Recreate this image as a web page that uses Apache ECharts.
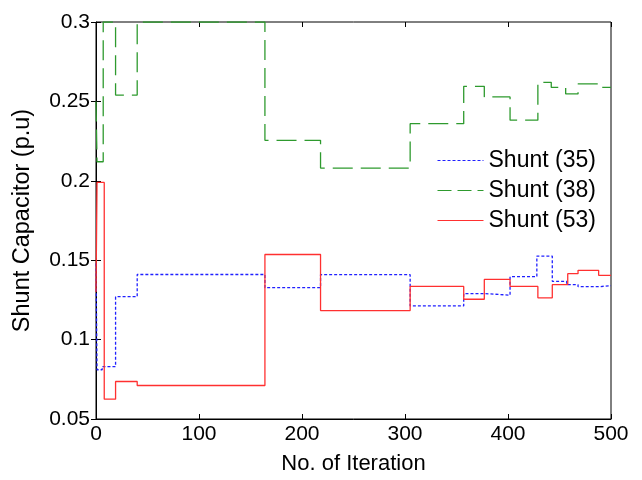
<!DOCTYPE html>
<html>
<head>
<meta charset="utf-8">
<script src="https://cdn.jsdelivr.net/npm/echarts@6/dist/echarts.min.js"></script>
<style>
  html, body { margin: 0; padding: 0; background: #fff; }
  #chart { width: 642px; height: 480px; }
</style>
</head>
<body>
<div id="chart"></div>
<script>
// step positions (iteration where the value changes) and values
const iter35 = [0, 1, 6, 19, 40, 164, 218, 305, 357, 377, 402, 428, 443, 457, 468, 488, 500];
const shunt35 = [0.148, 0.081, 0.083, 0.127, 0.141, 0.1327, 0.1409, 0.1212, 0.129, 0.128, 0.1396, 0.1526, 0.1367, 0.1346, 0.1333, 0.134, 0.134];

const iter38 = [0, 1, 7, 19, 40, 164, 218, 305, 357, 377, 402, 429, 442, 456, 468, 488, 500];
const shunt38 = [0.25, 0.212, 0.3, 0.254, 0.3, 0.2255, 0.208, 0.236, 0.2595, 0.2528, 0.2382, 0.262, 0.2588, 0.2547, 0.261, 0.2588, 0.2588];

const iter53 = [0, 1, 8, 19, 40, 164, 218, 305, 357, 377, 402, 429, 443, 458, 468, 488, 500];
const shunt53 = [0.13, 0.199, 0.0625, 0.0736, 0.0711, 0.1536, 0.1183, 0.1335, 0.1254, 0.1379, 0.1335, 0.1263, 0.1346, 0.1415, 0.1436, 0.1405, 0.1405];

const xTicks = [0, 100, 200, 300, 400, 500];
const yTicks = [0.05, 0.1, 0.15, 0.2, 0.25, 0.3];

const pairs = (xs, ys) => xs.map((x, i) => [x, ys[i]]);
const font = 'Liberation Sans, Arial, sans-serif';

const chart = echarts.init(document.getElementById('chart'));

const tick = {show: true, inside: true, length: 5, lineStyle: {color: '#000'}};
const green = '#2e9a2e';
chart.setOption({
    animation: false,
    grid: {left: 96, right: 31, top: 22, bottom: 59, show: true, borderColor: '#000', borderWidth: 1},
    xAxis: [{
        type: 'value', min: xTicks[0], max: xTicks[xTicks.length - 1], interval: 100,
        name: 'No. of Iteration', nameLocation: 'middle', nameGap: 34,
        nameTextStyle: {fontFamily: font, fontSize: 22, color: '#000'},
        axisLine: {show: true, lineStyle: {color: '#000'}},
        axisTick: tick,
        axisLabel: {fontFamily: font, fontSize: 21, color: '#000', margin: 5},
        splitLine: {show: false}
    }, {
        type: 'value', position: 'top', min: 0, max: 500, interval: 100,
        axisLine: {show: false}, axisTick: tick, axisLabel: {show: false}, splitLine: {show: false}
    }],
    yAxis: [{
        type: 'value', min: yTicks[0], max: yTicks[yTicks.length - 1], interval: 0.05,
        name: 'Shunt Capacitor (p.u)', nameLocation: 'middle', nameGap: 61,
        nameTextStyle: {fontFamily: font, fontSize: 23.5, color: '#000'},
        axisLine: {show: true, lineStyle: {color: '#000'}},
        axisTick: tick,
        axisLabel: {fontFamily: font, fontSize: 21, color: '#000', margin: 6,
            formatter: v => String(+v.toFixed(2))},
        splitLine: {show: false}
    }, {
        type: 'value', position: 'right', min: 0.05, max: 0.3, interval: 0.05,
        axisLine: {show: false}, axisTick: tick, axisLabel: {show: false}, splitLine: {show: false}
    }],
    legend: {
        orient: 'vertical', left: 432, top: 144, itemWidth: 46, itemHeight: 12, itemGap: 7,
        itemStyle: {opacity: 0},
        textStyle: {fontFamily: font, fontSize: 23, color: '#000'},
        data: [
            {name: 'Shunt (35)', lineStyle: {width: 1}},
            {name: 'Shunt (38)', lineStyle: {type: [14, 6], color: green, width: 1}},
            {name: 'Shunt (53)', lineStyle: {width: 1}}
        ]
    },
    series: [{
        name: 'Shunt (35)', type: 'line', step: 'end', symbol: 'none',
        data: pairs(iter35, shunt35),
        lineStyle: {color: '#2020ff', width: 1.3, type: [3, 2]},
        itemStyle: {color: '#2020ff'}
    }, {
        name: 'Shunt (38)', type: 'line', step: 'end', symbol: 'none',
        data: pairs(iter38, shunt38),
        lineStyle: {color: green, width: 1.3, type: [20, 8]},
        itemStyle: {color: green}
    }, {
        name: 'Shunt (53)', type: 'line', step: 'end', symbol: 'none',
        data: pairs(iter53, shunt53),
        lineStyle: {color: '#ff3030', width: 1.3},
        itemStyle: {color: '#ff3030'}
    }]
});
</script>
</body>
</html>
